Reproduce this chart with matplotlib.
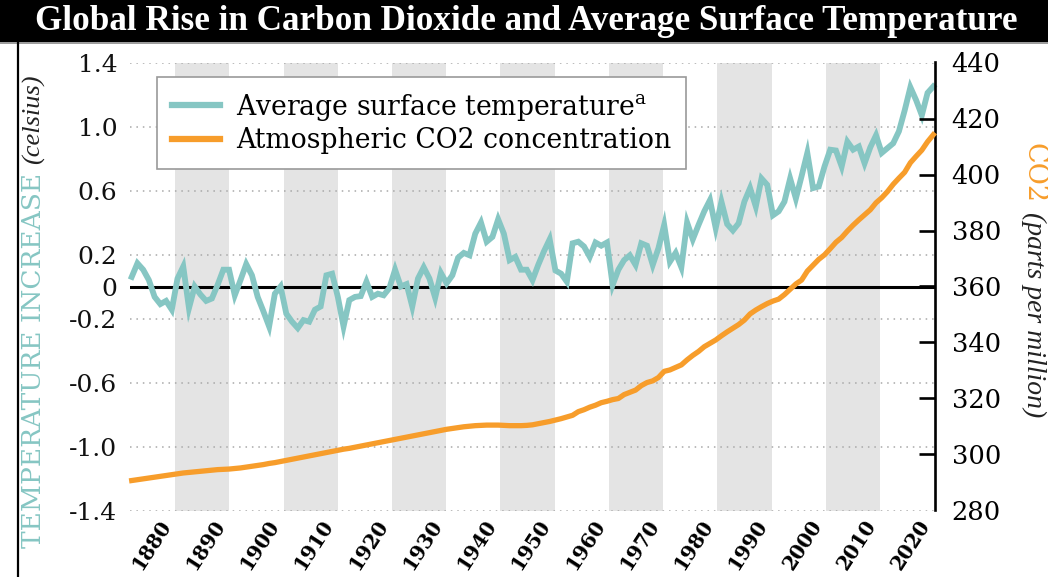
import matplotlib
matplotlib.use("Agg")
import matplotlib.pyplot as plt
import matplotlib.transforms as mtransforms
from matplotlib.lines import Line2D

# ---------------- data ----------------
years = list(range(1880, 2021))

temperature = [
    0.06, 0.145, 0.105, 0.04, -0.065, -0.11, -0.09, -0.145, 0.05, 0.125,
    -0.135, 0.0, -0.05, -0.09, -0.075, 0.01, 0.105, 0.105, -0.055, 0.04,
    0.14, 0.07, -0.065, -0.155, -0.25, -0.045, 0.0, -0.17, -0.22, -0.26,
    -0.21, -0.22, -0.145, -0.125, 0.07, 0.08, -0.065, -0.25, -0.085, -0.065,
    -0.06, 0.03, -0.065, -0.045, -0.055, -0.01, 0.105, 0.0, 0.015, -0.125,
    0.05, 0.12, 0.05, -0.07, 0.085, 0.02, 0.07, 0.18, 0.21, 0.195,
    0.33, 0.40, 0.28, 0.31, 0.42, 0.33, 0.165, 0.185, 0.105, 0.105,
    0.04, 0.135, 0.22, 0.295, 0.10, 0.08, 0.03, 0.27, 0.28, 0.25,
    0.185, 0.275, 0.255, 0.275, 0.01, 0.105, 0.165, 0.195, 0.135, 0.27,
    0.255, 0.135, 0.24, 0.385, 0.155, 0.21, 0.12, 0.40, 0.295, 0.385,
    0.47, 0.54, 0.365, 0.53, 0.39, 0.35, 0.395, 0.53, 0.615, 0.50,
    0.675, 0.635, 0.445, 0.47, 0.53, 0.675, 0.55, 0.69, 0.835, 0.615,
    0.625, 0.75, 0.855, 0.85, 0.75, 0.905, 0.855, 0.875, 0.77, 0.87,
    0.945, 0.835, 0.865, 0.895, 0.97, 1.10, 1.245, 1.165, 1.07, 1.21,
    1.25,
]

co2 = [
    290.7, 291.0, 291.3, 291.6, 291.9, 292.2, 292.5, 292.8, 293.1, 293.4,
    293.6, 293.8, 294.0, 294.2, 294.4, 294.6, 294.7, 294.8, 295.0, 295.2,
    295.5, 295.8, 296.1, 296.4, 296.8, 297.1, 297.5, 297.9, 298.3, 298.7,
    299.1, 299.5, 299.9, 300.3, 300.7, 301.1, 301.5, 301.9, 302.2, 302.6,
    303.0, 303.4, 303.8, 304.2, 304.6, 305.0, 305.4, 305.8, 306.2, 306.6,
    307.0, 307.4, 307.8, 308.2, 308.6, 309.0, 309.3, 309.6, 309.9, 310.1,
    310.3, 310.4, 310.5, 310.5, 310.5, 310.4, 310.3, 310.3, 310.3, 310.4,
    310.6, 311.0, 311.4, 311.8, 312.3, 312.8, 313.4, 314.0, 315.3, 316.0,
    316.9, 317.6, 318.5, 319.0, 319.6, 320.0, 321.4, 322.2, 323.0, 324.6,
    325.7, 326.3, 327.5, 329.7, 330.2, 331.1, 332.0, 333.8, 335.4, 336.8,
    338.5, 339.7, 340.9, 342.4, 343.8, 345.1, 346.4, 348.0, 350.2, 351.6,
    352.8, 353.9, 354.8, 355.5, 357.1, 359.0, 360.9, 362.3, 365.5, 367.6,
    369.7, 371.3, 373.5, 375.8, 377.5, 379.8, 381.9, 383.8, 385.6, 387.4,
    389.9, 391.7, 393.9, 396.5, 398.7, 400.8, 404.2, 406.5, 408.7, 411.7,
    414.2,
]

decades = [1880, 1890, 1900, 1910, 1920, 1930, 1940, 1950,
           1960, 1970, 1980, 1990, 2000, 2010, 2020]
decade_labels = [str(d) for d in decades]
shaded_decades = [1890, 1910, 1930, 1950, 1970, 1990, 2010]

temp_ticks = [-1.4, -1.0, -0.6, -0.2, 0, 0.2, 0.6, 1.0, 1.4]
temp_tick_labels = ["-1.4", "-1.0", "-0.6", "-0.2", "0", "0.2", "0.6", "1.0", "1.4"]
co2_ticks = [280, 300, 320, 340, 360, 380, 400, 420, 440]
co2_tick_labels = [str(v) for v in co2_ticks]

title = "Global Rise in Carbon Dioxide and Average Surface Temperature"
temp_label = "Average surface temperature$^{\\mathrm{a}}$"
co2_label = "Atmospheric CO2 concentration"

# ---------------- style ----------------
TEAL = "#86c6c3"
ORANGE = "#f79d2b"
BAND = "#e4e4e4"
GRID = "#a8a8a8"
SERIF = "DejaVu Serif"
plt.rcParams["mathtext.fontset"] = "dejavuserif"
plt.rcParams["axes.unicode_minus"] = False

W, H = 1048, 577
fig = plt.figure(figsize=(W / 100, H / 100), dpi=100)
fig.patch.set_facecolor("white")

# axes rectangle (pixels): x 130..935, y 62.5..510.5 (from top)
L, R, T, B = 130, 935, 62.5, 510.5
rect = [L / W, (H - B) / H, (R - L) / W, (B - T) / H]

# title bar
fig.patches.append(plt.Rectangle((0, 1 - 42 / H), 1, 42 / H, transform=fig.transFigure,
                                 facecolor="black", edgecolor="none", zorder=0))
fig.add_artist(Line2D([0, 1], [1 - 42.5 / H] * 2, transform=fig.transFigure,
                      color="#8a8a8a", lw=1.2))
fig.text(526 / W, 1 - 22 / H, title, color="white", ha="center", va="center",
         fontsize=25.3, fontweight="bold", family="Liberation Serif")
# left frame line
fig.add_artist(Line2D([18 / W, 18 / W], [0, 1 - 42 / H], transform=fig.transFigure,
                      color="black", lw=1.6))

# ---- background axes: decade bands + decade labels ----
ax_bg = fig.add_axes(rect)
ax_bg.set_xlim(1876.7, 2025.1)
ax_bg.set_ylim(0, 1)
for d in shaded_decades:
    ax_bg.axvspan(d - 5, d + 5, color=BAND, lw=0, zorder=0)
ax_bg.set_xticks(decades)
ax_bg.set_xticklabels(decade_labels, rotation=57, ha="right", va="top",
                      rotation_mode="anchor", fontsize=14.3, fontweight="bold",
                      family=SERIF)
ax_bg.tick_params(axis="x", length=0, pad=4)
ax_bg.set_yticks([])
for s in ax_bg.spines.values():
    s.set_visible(False)
offset = mtransforms.ScaledTranslation(10 / 100, 0, fig.dpi_scale_trans)
for lab in ax_bg.get_xticklabels():
    lab.set_transform(lab.get_transform() + offset)

# ---- temperature axes ----
ax = fig.add_axes(rect)
ax.patch.set_visible(False)
ax.set_xlim(1879.7, 2020.3)
ax.set_ylim(-1.4, 1.4)
ax.set_yticks(temp_ticks)
ax.set_yticklabels(temp_tick_labels, fontsize=18, family=SERIF, color="#111111")
ax.tick_params(axis="y", length=0, pad=9)
ax.set_xticks([])
ax.yaxis.grid(True, color=GRID, linestyle=(0, (1, 3.2)), lw=1.1)
ax.set_axisbelow(True)
for s in ax.spines.values():
    s.set_visible(False)
ax.axhline(0, color="black", lw=2.2, zorder=2)
ax.plot(years, temperature, color=TEAL, lw=4.2, solid_joinstyle="miter",
        zorder=3, clip_on=False)

# ---- CO2 axes ----
axr = ax.twinx()
axr.set_ylim(280, 440)
axr.set_yticks(co2_ticks)
axr.set_yticklabels(co2_tick_labels, fontsize=18.5, family=SERIF, color="#111111")
axr.tick_params(axis="y", direction="in", length=11.5, width=1.9, pad=12,
                colors="black")
for t in (axr.yaxis.get_major_ticks()[0], axr.yaxis.get_major_ticks()[-1]):
    t.tick2line.set_visible(False)
for name, s in axr.spines.items():
    s.set_visible(name == "right")
axr.spines["right"].set_linewidth(1.9)
axr.plot(years, co2, color=ORANGE, lw=3.8, zorder=3, clip_on=False)

# legend
handles = [Line2D([], [], color=TEAL, lw=4.5), Line2D([], [], color=ORANGE, lw=4.5)]
leg = axr.legend(handles, [temp_label, co2_label], loc="upper left",
                 bbox_to_anchor=(157 / W, 1 - 77 / H), bbox_transform=fig.transFigure,
                 borderaxespad=0, frameon=True, fancybox=False, framealpha=1,
                 edgecolor="#9a9a9a", prop={"family": SERIF, "size": 19.2},
                 handlelength=1.8, handletextpad=0.6, labelspacing=0.18,
                 borderpad=0.55)
leg.get_frame().set_linewidth(1.2)

# ---- axis titles (two-tone, rotated) ----
renderer = fig.canvas.get_renderer()
t1 = fig.text(34 / W, (H - 548) / H, "TEMPERATURE INCREASE", rotation=90,
              ha="center", va="bottom", color=TEAL, fontsize=19, family=SERIF)
bb = t1.get_window_extent(renderer)
fig.text(34 / W, (bb.y1 + 9) / H, "(celsius)", rotation=90, ha="center",
         va="bottom", color="#222222", fontsize=19, fontstyle="italic",
         family="Liberation Serif")

t3 = fig.text(1034 / W, 1 - 143 / H, "CO2", rotation=270, ha="center", va="top",
              color=ORANGE, fontsize=19.5, family=SERIF)
bb = t3.get_window_extent(renderer)
fig.text(1034 / W, (bb.y0 - 9) / H, "(parts per million)", rotation=270,
         ha="center", va="top", color="#222222", fontsize=20, fontstyle="italic",
         family="Liberation Serif")

fig.savefig("out.png", dpi=100, facecolor="white")
